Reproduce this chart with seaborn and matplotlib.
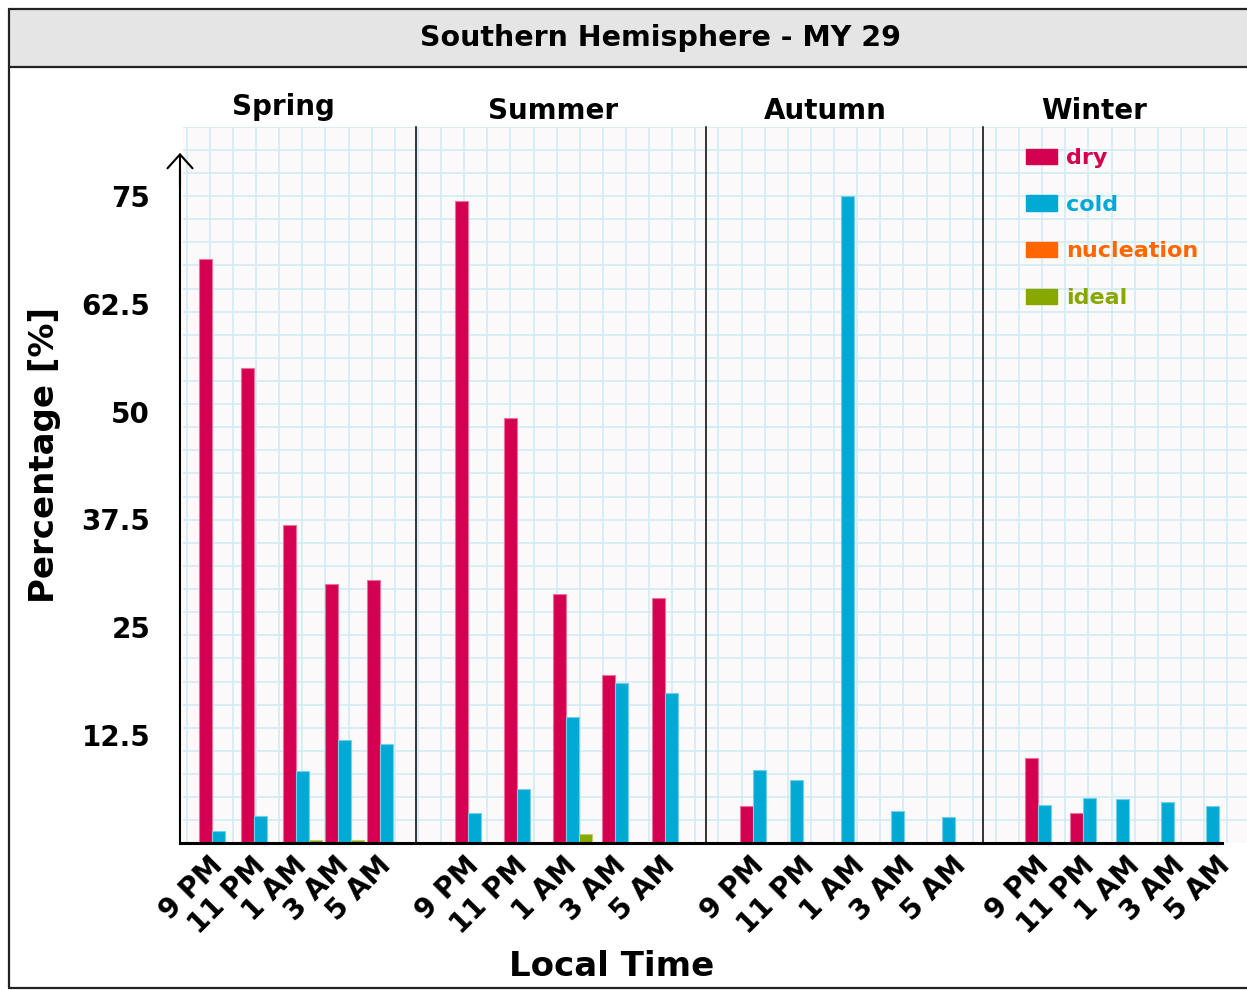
import numpy as np
import pandas as pd
import matplotlib
matplotlib.use("Agg")
import matplotlib.pyplot as plt
import matplotlib.colors as mcolors
from matplotlib.patches import Patch, Rectangle
from matplotlib.lines import Line2D
import seaborn as sns

# ---------------- data ----------------
times = ["9 PM", "11 PM", "1 AM", "3 AM", "5 AM"]
seasons = ["Spring", "Summer", "Autumn", "Winter"]
types = ["dry", "cold", "nucleation", "ideal"]
nan = np.nan

dry_spring = [67.7, 55.1, 36.9, 30.0, 30.5]
cold_spring = [1.4, 3.1, 8.4, 11.9, 11.5]
nucleation_spring = [nan, nan, nan, nan, nan]
ideal_spring = [nan, nan, 0.4, 0.4, nan]

dry_summer = [74.4, 49.3, 28.9, 19.5, 28.4]
cold_summer = [3.5, 6.3, 14.6, 18.5, 17.4]
nucleation_summer = [nan, nan, nan, nan, nan]
ideal_summer = [nan, nan, 1.1, nan, nan]

dry_autumn = [4.3, nan, nan, nan, nan]
cold_autumn = [8.5, 7.3, 75.0, 3.7, 3.05]
nucleation_autumn = [nan, nan, nan, nan, nan]
ideal_autumn = [nan, nan, nan, nan, nan]

dry_winter = [9.9, 3.5, nan, nan, nan]
cold_winter = [4.4, 5.25, 5.1, 4.8, 4.3]
nucleation_winter = [nan, nan, nan, nan, nan]
ideal_winter = [nan, nan, nan, nan, nan]

y_ticks = [6.25, 12.5, 18.75, 25, 31.25, 37.5, 43.75, 50, 56.25, 62.5, 68.75, 75]

series = {
    "Spring": [dry_spring, cold_spring, nucleation_spring, ideal_spring],
    "Summer": [dry_summer, cold_summer, nucleation_summer, ideal_summer],
    "Autumn": [dry_autumn, cold_autumn, nucleation_autumn, ideal_autumn],
    "Winter": [dry_winter, cold_winter, nucleation_winter, ideal_winter],
}

rows = []
for s in seasons:
    for t, vals in zip(types, series[s]):
        for tm, v in zip(times, vals):
            if not np.isnan(v):
                rows.append(dict(season=s, type=t, time=tm, value=v))
df = pd.DataFrame(rows)
df["tidx"] = df["type"].map({t: i for i, t in enumerate(types)})
df["cidx"] = df["time"].map({t: i for i, t in enumerate(times)})
df = df.sort_values(["season", "cidx", "tidx"]).reset_index(drop=True)
# present bars are placed side by side from the left of each group
df["slot"] = df.groupby(["season", "time"]).cumcount()
df["slot_lbl"] = "s" + df["slot"].astype(str)

colors = {"dry": "#D4004F", "cold": "#00AAD4", "nucleation": "#FF6600", "ideal": "#88A800"}


def lighten(c, f=0.45):
    r, g, b = mcolors.to_rgb(c)
    return (r + (1 - r) * f, g + (1 - g) * f, b + (1 - b) * f)


# ---------------- figure ----------------
sns.set_style("white")
plt.rcParams["font.family"] = ["DejaVu Sans"]
plt.rcParams["text.color"] = "black"
plt.rcParams["axes.labelcolor"] = "black"
plt.rcParams["xtick.color"] = "black"
plt.rcParams["ytick.color"] = "black"
W, H = 1247, 991
fig = plt.figure(figsize=(W / 100, H / 100), dpi=100)


def fx(x):
    return x / W


def fy(y):
    return 1 - y / H


# graph-paper background
TOP, BOT = 127, 843
bg = fig.add_axes([fx(183), fy(BOT), fx(1247) - fx(183), (BOT - TOP) / H], zorder=0)
bg.set_facecolor("#FBF9FA")
bg.set_xlim(183, 1247)
bg.set_ylim(BOT, TOP)
for xg in np.arange(186.7, 1247, 23.12):
    bg.axvline(xg, color="#CFEAF3", lw=1.1)
for yg in np.arange(126.7, BOT, 23.12):
    bg.axhline(yg, color="#CFEAF3", lw=1.1)
bg.set_xticks([])
bg.set_yticks([])
for sp in bg.spines.values():
    sp.set_visible(False)

# panels: pixel extents, xlim, dodge width
panels = {
    "Spring": dict(px=(180, 416), xlim=(-0.926, 4.693), width=0.929),
    "Summer": dict(px=(416, 706), xlim=(-1.183, 4.711), width=0.793),
    "Autumn": dict(px=(706, 983), xlim=(-1.059, 4.426), width=0.772),
    "Winter": dict(px=(983, 1247), xlim=(-1.357, 4.47), width=0.861),
}
YMAX = (BOT - TOP) / 8.627

axes = {}
for s in seasons:
    p = panels[s]
    x0, x1 = p["px"]
    ax = fig.add_axes([fx(x0), fy(BOT), fx(x1) - fx(x0), (BOT - TOP) / H], zorder=2)
    ax.patch.set_alpha(0)
    sub = df[df["season"] == s]
    sns.barplot(data=sub, x="time", y="value", hue="slot_lbl", order=times,
                hue_order=["s0", "s1", "s2"], palette={"s0": "k", "s1": "k", "s2": "k"},
                width=p["width"], dodge=True, errorbar=None, legend=False, ax=ax)
    w = p["width"]
    lookup = {(r.cidx, r.slot): r.type for r in sub.itertuples()}
    for bar in ax.patches:
        h = bar.get_height()
        if not np.isfinite(h) or h <= 0:
            continue
        xc = bar.get_x() + bar.get_width() / 2
        ci = int(round(xc))
        sl = int(round((xc - ci + w / 2) / (w / 3) - 0.5))
        t = lookup.get((ci, sl))
        if t is None:
            continue
        bar.set_facecolor(colors[t])
        bar.set_edgecolor(lighten(colors[t]))
        bar.set_linewidth(0.8)
    ax.set_xlim(*p["xlim"])
    ax.set_ylim(0, YMAX)
    ax.set_xlabel("")
    ax.set_ylabel("")
    ax.set_xticks(range(len(times)))
    ax.set_xticklabels(times, rotation=45, ha="right", va="center",
                       rotation_mode="anchor", fontsize=20, fontweight="bold")
    ax.tick_params(axis="x", length=0, pad=13)
    for sp in ["top", "right"]:
        ax.spines[sp].set_visible(False)
    ax.spines["bottom"].set_linewidth(2.2)
    ax.spines["bottom"].set_color("black")
    if s == "Spring":
        ax.spines["left"].set_linewidth(1.5)
        ax.spines["left"].set_color("black")
        ax.spines["left"].set_bounds(0, 78)
        ax.set_yticks(y_ticks)
        ax.set_yticklabels([f"{v:g}" if (v / 12.5).is_integer() else "" for v in y_ticks],
                           fontsize=20, fontweight="bold")
        ax.tick_params(axis="y", direction="inout", length=22, width=1.6, pad=10.5)
        ax.annotate("", xy=(0, 80.0), xycoords=("axes fraction", "data"),
                    xytext=(0, 76), textcoords=("axes fraction", "data"),
                    arrowprops=dict(arrowstyle="->,head_length=0.5,head_width=0.45",
                                    lw=1.5, color="black", mutation_scale=20,
                                    shrinkA=0, shrinkB=0), annotation_clip=False)
    else:
        ax.spines["left"].set_linewidth(1.1)
        ax.spines["left"].set_color("black")
        ax.tick_params(axis="y", left=False, labelleft=False)
    if s == "Winter":
        xr = p["xlim"][0] + (1222 - x0) / (x1 - x0) * (p["xlim"][1] - p["xlim"][0])
        ax.spines["bottom"].set_bounds(p["xlim"][0], xr)
    axes[s] = ax

# legend
handles = [Patch(facecolor=colors[t], edgecolor=colors[t]) for t in types]
leg = axes["Winter"].legend(handles=handles, labels=types, loc="upper left",
                            bbox_to_anchor=(fx(1026), fy(148)), bbox_transform=fig.transFigure,
                            frameon=False, prop=dict(weight="bold", size=16),
                            handlelength=1.4, handleheight=0.68, handletextpad=0.4,
                            labelspacing=1.2, borderpad=0, borderaxespad=0)
for txt, t in zip(leg.get_texts(), types):
    txt.set_color(colors[t])

# title strip and frame
fig.add_artist(Rectangle((fx(9), fy(67)), fx(1247) - fx(9), (67 - 9) / H,
                         transform=fig.transFigure, facecolor="#E5E5E5",
                         edgecolor="none", zorder=0))
fc = "#222222"
fig.add_artist(Line2D([fx(9), fx(1247)], [fy(9), fy(9)], color=fc, lw=1.6))
fig.add_artist(Line2D([fx(9), fx(1247)], [fy(67), fy(67)], color=fc, lw=1.6))
fig.add_artist(Line2D([fx(9), fx(9)], [fy(9), fy(988)], color=fc, lw=1.6))
fig.add_artist(Line2D([fx(9), fx(1247)], [fy(988), fy(988)], color=fc, lw=1.6))

fig.text(fx(661), fy(38), "Southern Hemisphere - MY 29", ha="center", va="center",
         fontsize=20.5, fontweight="bold")
title_pos = {"Spring": (283, 115), "Summer": (553, 119), "Autumn": (825, 119), "Winter": (1094, 119)}
for s in seasons:
    x, y = title_pos[s]
    fig.text(fx(x), fy(y), s, ha="center", va="baseline", fontsize=20, fontweight="bold")

fig.text(fx(45), fy(455), "Percentage [%]", rotation=90, ha="center", va="center",
         fontsize=24.5, fontweight="bold")
fig.text(fx(612), fy(966), "Local Time", ha="center", va="center",
         fontsize=24.5, fontweight="bold")

fig.savefig("out.png", dpi=100)
